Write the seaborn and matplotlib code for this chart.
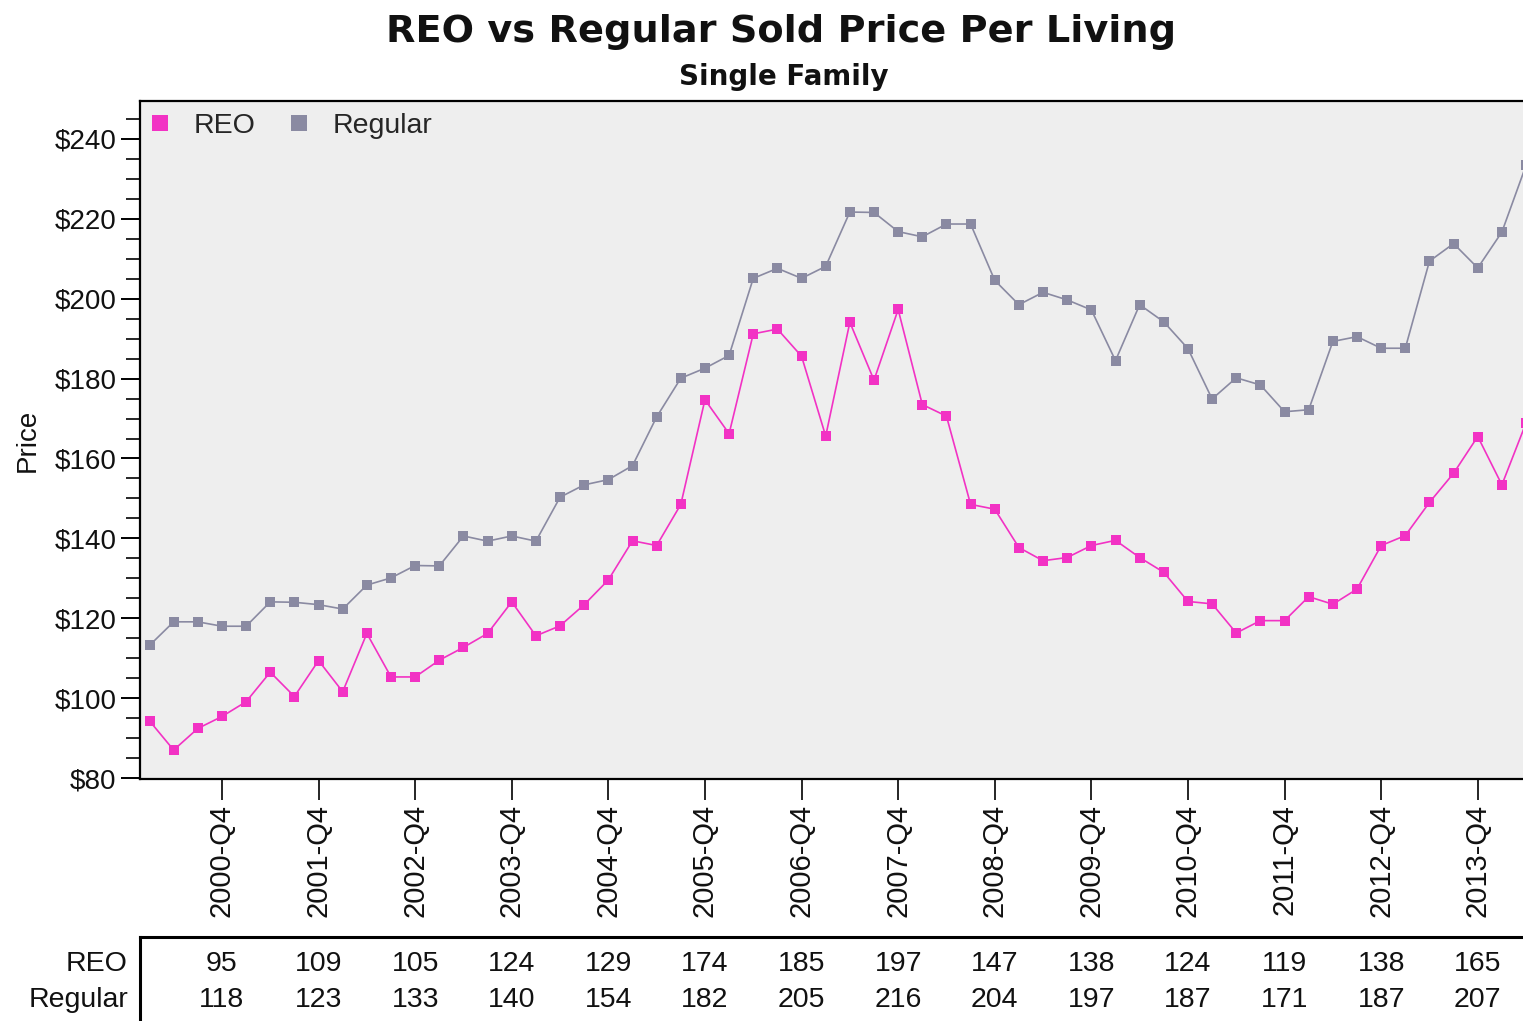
import matplotlib
matplotlib.use("Agg")
import matplotlib.pyplot as plt
from matplotlib.lines import Line2D
from matplotlib.ticker import MultipleLocator, FuncFormatter
import matplotlib.transforms as mtransforms
import seaborn as sns
import pandas as pd

# ---------------- data (2000-Q1 .. 2014-Q2) ----------------
reo = [94.3, 87.0, 92.4, 95.4, 99.1, 106.5, 100.4, 109.4, 101.6, 116.2,
       105.3, 105.3, 109.5, 112.7, 116.2, 124.1, 115.6, 118.1, 123.4, 129.6,
       139.4, 138.2, 148.5, 174.7, 166.2, 191.2, 192.4, 185.6, 165.6, 194.1,
       179.6, 197.3, 173.5, 170.6, 148.5, 147.3, 137.7, 134.4, 135.2, 138.2,
       139.5, 135.2, 131.5, 124.2, 123.6, 116.3, 119.4, 119.4, 125.4, 123.5,
       127.3, 138.2, 140.7, 149.0, 156.3, 165.5, 153.4, 168.9]
regular = [113.2, 119.1, 119.1, 118.0, 118.0, 124.1, 124.0, 123.4, 122.3, 128.3,
           130.1, 133.2, 133.1, 140.6, 139.3, 140.6, 139.3, 150.3, 153.4, 154.7,
           158.2, 170.4, 180.1, 182.6, 185.8, 205.1, 207.6, 205.1, 208.1, 221.7,
           221.6, 216.8, 215.5, 218.7, 218.7, 204.6, 198.5, 201.6, 199.7, 197.2,
           184.5, 198.5, 194.2, 187.5, 174.9, 180.2, 178.4, 171.7, 172.2, 189.3,
           190.5, 187.6, 187.6, 209.4, 213.8, 207.7, 216.7, 233.4]
tick_labels = ["2000-Q4", "2001-Q4", "2002-Q4", "2003-Q4", "2004-Q4", "2005-Q4",
               "2006-Q4", "2007-Q4", "2008-Q4", "2009-Q4", "2010-Q4", "2011-Q4",
               "2012-Q4", "2013-Q4"]
tick_pos = [3, 7, 11, 15, 19, 23, 27, 31, 35, 39, 43, 47, 51, 55]
series_names = ["REO", "Regular"]
colors = {"REO": "#F232C4", "Regular": "#8A8AA2"}

idx = list(range(len(reo)))
df = pd.DataFrame({
    "idx": idx * 2,
    "price": reo + regular,
    "series": ["REO"] * len(reo) + ["Regular"] * len(regular),
})

# ---------------- figure ----------------
sns.set_style("white")
plt.rcParams["font.family"] = ["Liberation Sans", "DejaVu Sans"]

W, H = 1523, 1021
fig = plt.figure(figsize=(W / 100, H / 100), dpi=100)
fig.patch.set_facecolor("white")

def px_rect(l, t, r, b):
    return [l / W, 1 - b / H, (r - l) / W, (b - t) / H]

AX_L, AX_R = 140, 1545
ax = fig.add_axes(px_rect(AX_L, 101, AX_R, 779))
ax.set_facecolor("#EEEEEE")

sns.lineplot(data=df, x="idx", y="price", hue="series", hue_order=series_names,
             palette=colors, marker="s", markersize=7.8, markeredgewidth=0,
             linewidth=1.2, legend=False, ax=ax)

x0 = 149.5
dx = 24.15
ax.set_xlim((AX_L - x0) / dx, (AX_R - x0) / dx)
ax.set_ylim(79.75, 249.5)

ax.set_yticks([80, 100, 120, 140, 160, 180, 200, 220, 240])
ax.yaxis.set_minor_locator(MultipleLocator(5))
ax.yaxis.set_major_formatter(FuncFormatter(lambda v, p: f"${v:.0f}"))
ax.set_xticks(tick_pos)
ax.set_xticklabels(tick_labels, rotation=90, fontsize=21)
ax.tick_params(axis="y", which="major", direction="out", length=14, width=1.4,
               labelsize=20, pad=3, left=True, color="black", labelcolor="#111111")
ax.tick_params(axis="y", which="minor", direction="out", length=10, width=1.4, left=True)
ax.tick_params(axis="x", which="major", direction="out", length=15, width=1.4,
               pad=3, bottom=True, labelcolor="#111111")
ax.set_xlabel("")
ax.set_ylabel("Price", fontsize=20, color="#111111")
ax.yaxis.set_label_coords((41 - AX_L) / (AX_R - AX_L), 0.5)
for s in ["left", "top", "bottom", "right"]:
    ax.spines[s].set_color("black")
    ax.spines[s].set_linewidth(1.6)

# legend
handles = [Line2D([], [], marker="s", linestyle="none", markersize=12,
                  markeredgewidth=0, color=colors[n]) for n in series_names]
fig.legend(handles, series_names, loc="upper left",
           bbox_to_anchor=(151.7 / W, 1 - 113 / H), ncol=2, frameon=False,
           fontsize=20.5, handlelength=0.6, handletextpad=0.86, columnspacing=1.25,
           borderpad=0, borderaxespad=0)

# titles
fig.text(781 / W, 1 - 42 / H, "REO vs Regular Sold Price Per Living",
         ha="center", va="baseline", fontsize=27.5, fontweight="bold",
         family="DejaVu Sans", color="#111111")
fig.text(784 / W, 1 - 85 / H, "Single Family",
         ha="center", va="baseline", fontsize=20, fontweight="bold",
         family="DejaVu Sans", color="#111111")

# data table below the chart
tax = fig.add_axes(px_rect(AX_L, 937, 1600, 1040))
tax.set_facecolor("none")
tax.set_xticks([])
tax.set_yticks([])
for s in ["right", "bottom"]:
    tax.spines[s].set_visible(False)
for s in ["left", "top"]:
    tax.spines[s].set_linewidth(2.2)
    tax.spines[s].set_color("black")

tr = mtransforms.blended_transform_factory(ax.transData, fig.transFigure)
rows = {"REO": reo, "Regular": regular}
row_y = {"REO": 1 - 964 / H, "Regular": 1 - 1000 / H}
for name in series_names:
    fig.text(128 / W, row_y[name], name, ha="right", va="center", fontsize=20.5,
             color="#111111")
    for p in tick_pos:
        ax.text(p, row_y[name], str(int(rows[name][p])), transform=tr,
                ha="center", va="center", fontsize=20.5, color="#111111",
                clip_on=False)

fig.savefig("out.png", dpi=100)
